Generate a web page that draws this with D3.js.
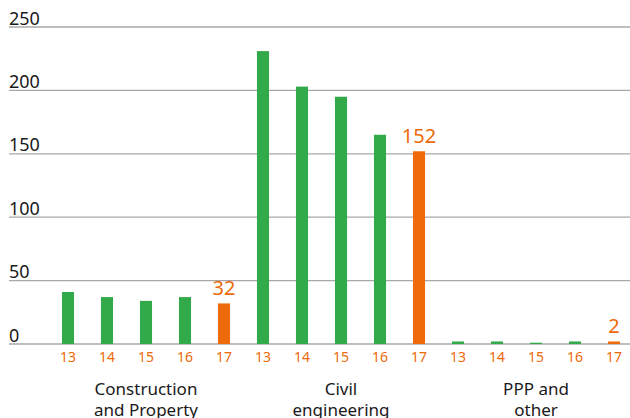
<!DOCTYPE html>
<html><head><meta charset="utf-8">
<script src="https://cdn.jsdelivr.net/npm/d3@7"></script>
<style>body{margin:0;background:#fff}svg{display:block}text{font-family:"Noto Sans",sans-serif}</style>
</head><body><svg id="c" width="630" height="418"></svg>
<script>
const groups = ["Construction\nand Property", "Civil\nengineering", "PPP and\nother"];
const years = ["13", "14", "15", "16", "17"];
const constructionValues = [41, 37, 34, 37, 32];
const civilValues = [231, 203, 195, 165, 152];
const pppValues = [2, 2, 1, 2, 2];
const yTicks = [0, 50, 100, 150, 200, 250];
const highlightYear = "17";

const seriesByGroup = [constructionValues, civilValues, pppValues];
const rows = [];
groups.forEach((g, gi) => years.forEach((y, yi) => rows.push({group: g, year: y, key: gi + "-" + y, value: seriesByGroup[gi][yi]})));

const svg = d3.select("#c");
const green = "#33aa4a", orange = "#ee6a0a";
const x = d3.scaleBand().domain(rows.map(d => d.key)).range([48.5, 633.5]).paddingInner(0.69).paddingOuter(0.345);
const y = d3.scaleLinear().domain([0, 250]).range([344, 27]);

// gridlines
svg.append("g").selectAll("line").data(yTicks).join("line")
  .attr("x1", 9).attr("x2", 630).attr("y1", d => y(d)).attr("y2", d => y(d))
  .attr("stroke", "#a8a8a8").attr("stroke-width", 1.3);
svg.append("g").selectAll("text").data(yTicks).join("text")
  .attr("x", 9).attr("y", d => y(d) - 2.5).attr("font-size", 18).attr("fill", "#1a1a1a")
  .text(d => d);

// bars
svg.append("g").selectAll("rect").data(rows).join("rect")
  .attr("x", d => x(d.key)).attr("width", x.bandwidth())
  .attr("y", d => y(d.value)).attr("height", d => y(0) - y(d.value))
  .attr("fill", d => d.year === highlightYear ? orange : green);

// value labels for highlight
svg.append("g").selectAll("text").data(rows.filter(d => d.year === highlightYear)).join("text")
  .attr("x", d => x(d.key) + x.bandwidth() / 2).attr("y", d => y(d.value) - 8)
  .attr("text-anchor", "middle").attr("font-size", 20).attr("fill", orange)
  .text(d => d.value);

// year ticks
svg.append("g").selectAll("text").data(rows).join("text")
  .attr("x", d => x(d.key) + x.bandwidth() / 2).attr("y", 362)
  .attr("text-anchor", "middle").attr("font-size", 14).attr("fill", orange)
  .text(d => d.year);

// group labels
groups.forEach((g, gi) => {
  const cx = x(gi + "-15") + x.bandwidth() / 2;
  const t = svg.append("text").attr("text-anchor", "middle").attr("font-size", 17).attr("fill", "#1a1a1a");
  g.split("\n").forEach((line, li) => t.append("tspan").attr("x", cx).attr("y", 395 + li * 21).text(line));
});
</script></body></html>
